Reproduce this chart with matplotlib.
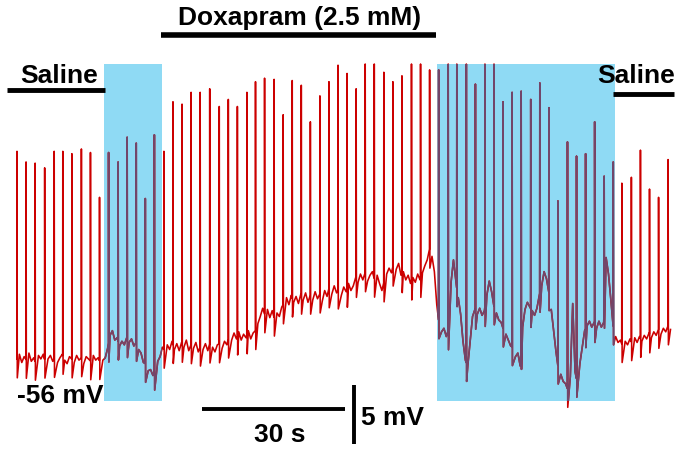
import numpy as np
import matplotlib
matplotlib.use("Agg")
import matplotlib.pyplot as plt
from matplotlib.patches import Rectangle

plt.rcParams['font.family'] = ['Liberation Sans', 'DejaVu Sans']

# --- data (time in s, membrane potential in mV) ---
spike_t = [0.0, 1.9, 3.8, 5.8, 7.8, 9.6, 11.5, 13.5, 15.4, 17.3,
           19.2, 21.2, 23.1, 25.0, 26.9, 28.8, 30.8, 32.7, 34.6, 36.5,
           38.4, 40.4, 42.4, 44.3, 46.2, 48.2, 50.0, 51.9, 53.9, 55.8,
           57.7, 59.6, 61.5, 63.5, 65.4, 67.3, 69.2, 71.1, 73.0, 74.9,
           76.9, 78.8, 80.7, 82.7, 84.6, 86.5, 88.4, 90.4, 92.2, 94.2,
           96.1, 98.1, 100.0, 101.9, 103.8, 105.7, 107.7, 109.6, 111.5, 113.4,
           115.4, 117.3, 119.2, 121.1, 123.1, 125.0, 126.8, 128.8, 130.7, 132.6,
           134.5, 136.5]
spike_peak = [-38.4, -39.3, -39.4, -39.8, -38.4, -38.4, -38.6, -38.2, -38.5, -42.3,
              -38.5, -39.3, -37.2, -37.7, -42.4, -37.0, -38.4, -34.2, -34.4, -33.4,
              -33.4, -33.1, -34.6, -34.0, -34.6, -33.4, -32.5, -32.2, -32.3, -35.3,
              -32.4, -32.8, -35.9, -33.7, -32.5, -31.1, -31.8, -33.1, -31.0, -31.0,
              -31.7, -32.5, -32.0, -31.0, -31.0, -31.5, -31.5, -31.0, -31.0, -31.0,
              -32.7, -31.0, -31.0, -34.2, -33.4, -33.3, -34.0, -32.6, -34.7, -42.6,
              -37.6, -38.8, -38.6, -35.9, -40.5, -39.3, -41.1, -40.6, -38.3, -41.6,
              -42.3, -39.1]
ahp_depth = 1.6  # mV below baseline after each spike

# baseline potential sampled every 0.5 s from t = 0 to 137 s
base_v = [
    -56.0, -55.6, -56.3, -55.8, -56.1, -55.5, -56.2, -55.9, -56.4, -55.7,
    -56.0, -55.6, -56.3, -56.0, -55.7, -56.2, -55.8, -56.3, -55.9, -55.6,
    -56.1, -56.4, -55.8, -56.0, -56.3, -55.7, -56.1, -55.9, -56.4, -55.8,
    -56.0, -56.2, -55.7, -56.1, -55.9, -56.3, -56.1,
    -55.9, -55.1, -54.0, -53.6, -54.4, -54.2, -54.9, -54.5,
    -54.8, -54.2, -54.6, -54.3, -54.9, -54.6, -55.2, -55.5, -56.3, -56.4,
    -57.0, -56.9, -57.4, -56.8, -56.2, -55.8, -55.0, -55.3, -54.8, -55.2,
    -54.5, -55.2, -54.7, -55.3, -54.6, -55.0, -54.4, -55.3, -54.8, -55.1,
    -54.6, -55.4, -54.9, -55.2, -54.7, -55.3, -54.6, -55.0, -55.4, -54.8,
    -54.7, -55.1, -54.5, -54.8, -54.0, -54.4, -53.8, -54.3, -53.7, -54.4,
    -53.9, -54.2, -53.6, -54.3, -53.8,
    -53.6, -53.0, -52.4, -51.7, -52.3, -51.8, -52.5, -51.9, -52.6, -52.1,
    -52.4, -51.6, -51.3, -50.8, -51.4, -50.6, -51.2, -50.7, -51.3, -50.5, -51.0,
    -50.4, -51.2, -50.6, -51.0, -50.3, -50.9, -50.5, -51.1, -50.2, -50.7,
    -49.9, -50.5, -49.8, -50.4, -50.0, -50.6, -49.9, -50.3, -49.6, -50.2,
    -49.8, -49.1, -49.5, -48.8, -49.3, -48.7, -49.4, -48.9, -48.6, -49.3,
    -48.9, -49.6, -50.2, -49.4, -48.8, -48.3, -48.7, -47.9, -48.4, -47.9,
    -48.9, -48.6, -49.3, -48.9, -49.6, -49.1, -49.5, -48.8,
    -49.3, -48.7, -48.1, -47.6, -46.7, -47.3, -48.6, -51.4,
    -53.0, -53.7, -53.4, -54.1, -53.5, -49.5, -47.6, -49.4,
    -50.8, -52.2, -54.5, -56.1, -56.6, -54.5, -52.4, -51.8,
    -52.2, -51.7, -52.3, -51.9, -50.6, -49.4, -50.3, -51.5, -52.1, -52.7,
    -52.9, -53.5, -53.9, -54.4, -54.9, -55.0, -55.8, -55.5, -56.6, -53.3,
    -51.8, -51.2, -51.6, -51.9, -52.3, -51.7, -50.6, -49.8, -48.6, -49.2,
    -50.3, -51.8, -53.6, -55.4, -56.8, -57.3, -57.9, -58.1, -58.6, -57.5,
    -51.3, -57.1, -58.0, -56.4, -55.0, -53.6, -53.2, -52.8, -53.3, -52.9,
    -53.4, -52.8, -53.3, -52.9, -47.4, -48.8, -51.0, -53.2, -54.1, -54.6,
    -54.4, -54.9, -54.5, -54.8, -54.3, -54.7, -54.2, -54.6, -54.1, -54.5,
    -54.0, -54.3, -53.8, -54.2, -53.7, -54.0, -53.5, -53.9, -53.4, -53.7,
    -53.2, -53.5,
]
base_step = 0.5

saline_1 = (18.24, 30.40)     # blue-shaded periods, s
saline_2 = (88.05, 125.37)

# --- build the trace: baseline plus spikes ---
base_t = np.arange(len(base_v)) * base_step
keep = np.ones(len(base_t), dtype=bool)
for ts in spike_t:
    keep &= ~((base_t > ts - 0.05) & (base_t < ts + 0.3))
tt = list(base_t[keep])
vv = list(np.array(base_v)[keep])
for ts, pk in zip(spike_t, spike_peak):
    b = np.interp(ts, base_t, base_v)
    tt += [ts - 0.03, ts, ts + 0.06]
    vv += [b, pk, b - ahp_depth]
order = np.argsort(tt)
tt = np.array(tt)[order]
vv = np.array(vv)[order]

W, H = 685, 452
fig = plt.figure(figsize=(W / 100, H / 100), dpi=100)
ax = fig.add_axes([0, 0, 1, 1])
ax.set_xlim(-3.564, 140.04)
ax.set_ylim(-63.8, -25.49)
ax.axis('off')

v_top, v_bot = -31.0, -59.6
rects = []
for t0, t1 in (saline_1, saline_2):
    r = Rectangle((t0, v_bot), t1 - t0, v_top - v_bot, facecolor='#8fdaf4',
                  edgecolor='none', zorder=1)
    ax.add_patch(r)
    rects.append(r)

ax.plot(tt, vv, color='#cc0000', lw=1.15, zorder=2)
for r in rects:
    ln, = ax.plot(tt, vv, color='#72466a', lw=1.15, zorder=3)
    ln.set_clip_path(r)


def fxy(x, y):
    return x / W, 1 - y / H


tkw = dict(transform=fig.transFigure, fontsize=19, fontweight='bold', color='black')
fig.text(*fxy(299.5, 25), 'Doxapram (2.5 mM)', ha='center', va='baseline', **tkw)
fig.text(*fxy(59.5, 83), 'Saline', ha='center', va='baseline', **tkw)
fig.text(*fxy(636, 83), 'Saline', ha='center', va='baseline', **tkw)
fig.text(*fxy(17, 403), '-56 mV', ha='left', va='baseline', **tkw)
fig.text(*fxy(280, 442), '30 s', ha='center', va='baseline', **tkw)
fig.text(*fxy(361, 425), '5 mV', ha='left', va='baseline', **tkw)

for x0, x1, y, lw in [(161, 436, 36, 4.0), (7, 105, 91, 3.5), (613, 674, 94.5, 3.5)]:
    (a, b), (c, d) = fxy(x0, y), fxy(x1, y)
    fig.add_artist(plt.Line2D([a, c], [b, d], color='black', lw=lw,
                              solid_capstyle='butt', transform=fig.transFigure))

# scale bars in data units
sb_t, sb_v = 38.8, -60.24
ax.plot([sb_t, sb_t + 30], [sb_v, sb_v], color='black', lw=2.8, solid_capstyle='butt')
ax.plot([70.65, 70.65], [-63.2, -58.2], color='black', lw=2.8, solid_capstyle='butt')

fig.savefig('out.png', dpi=100)
